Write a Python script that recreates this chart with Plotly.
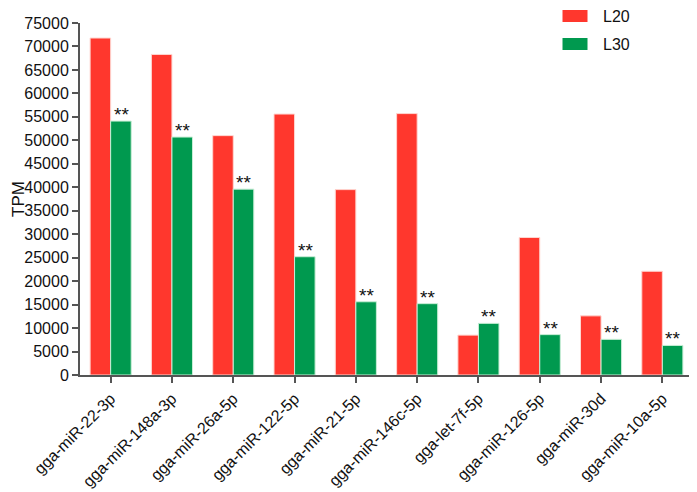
import plotly.graph_objects as go

mirnas = [
    "gga-miR-22-3p", "gga-miR-148a-3p", "gga-miR-26a-5p", "gga-miR-122-5p",
    "gga-miR-21-5p", "gga-miR-146c-5p", "gga-let-7f-5p", "gga-miR-126-5p",
    "gga-miR-30d", "gga-miR-10a-5p",
]
l20 = [71800, 68300, 51000, 55600, 39500, 55700, 8500, 29300, 12600, 22100]
l30 = [54100, 50700, 39600, 25200, 15600, 15200, 11000, 8600, 7600, 6300]
sig = ["**"] * len(mirnas)
series = ["L20", "L30"]

RED = "#FF372D"
GREEN = "#00994F"
AXIS = "#555555"
FONT = "Arial, Liberation Sans, sans-serif"

# page body adds 8px, so the plot box is given in figure pixels
W, H = 697, 492
L, R, T, B = 72, 12, 15, 125
pw, ph = W - L - R, H - T - B

fig = go.Figure()
fig.add_trace(go.Bar(
    x=mirnas, y=l20, name=series[0],
    marker=dict(color=RED, line=dict(color="#ffd6d0", width=1)),
))
fig.add_trace(go.Bar(
    x=mirnas, y=l30, name=series[1],
    marker=dict(color=GREEN, line=dict(color="#c8eed6", width=1)),
))

# significance stars above the L30 bars
for name, v, s in zip(mirnas, l30, sig):
    fig.add_annotation(
        x=name, y=v, text=s, showarrow=False,
        xshift=10.5, yshift=-6, yanchor="bottom",
        font=dict(family=FONT, size=19, color="#111111"),
    )

# legend drawn by hand (wide swatches, top right), figure pixels
for i, (lab, col) in enumerate(zip(series, [RED, GREEN])):
    mid = 8 + i * 28
    fig.add_shape(
        type="rect", xref="paper", yref="paper",
        x0=(554 - L) / pw, x1=(580 - L) / pw,
        y0=(H - B - mid + 6.5) / ph, y1=(H - B - mid - 6.5) / ph,
        fillcolor=col, line=dict(color="white", width=1),
    )
    fig.add_annotation(
        xref="paper", yref="paper", x=(593 - L) / pw, y=(H - B - mid) / ph,
        text=lab, showarrow=False, xanchor="left", yanchor="middle",
        font=dict(family=FONT, size=16, color="#111111"),
    )

# y axis title placed by hand
fig.add_annotation(
    xref="paper", yref="paper", x=(10 - L) / pw, y=(H - B - 191) / ph,
    text="TPM", textangle=-90, showarrow=False,
    xanchor="center", yanchor="middle",
    font=dict(family=FONT, size=17, color="#111111"),
)

fig.update_layout(
    width=W, height=H,
    margin=dict(l=L, r=R, t=T, b=B, autoexpand=False),
    paper_bgcolor="white", plot_bgcolor="white",
    barmode="group", bargap=0.33, bargroupgap=0.0,
    font=dict(family=FONT, size=16, color="#111111"),
    showlegend=False,
)
fig.update_yaxes(
    range=[0, 75000], dtick=5000, tickformat="d", automargin=False,
    showline=True, linecolor=AXIS, linewidth=2,
    ticks="outside", ticklen=6, tickwidth=2, tickcolor=AXIS,
    showgrid=False, zeroline=False,
)
fig.update_xaxes(
    tickangle=-45, automargin=False,
    showline=True, linecolor=AXIS, linewidth=2,
    ticks="outside", ticklen=6, tickwidth=2, tickcolor=AXIS,
    showgrid=False, range=[-0.5, 9.5],
)

fig.write_html("out.html")
